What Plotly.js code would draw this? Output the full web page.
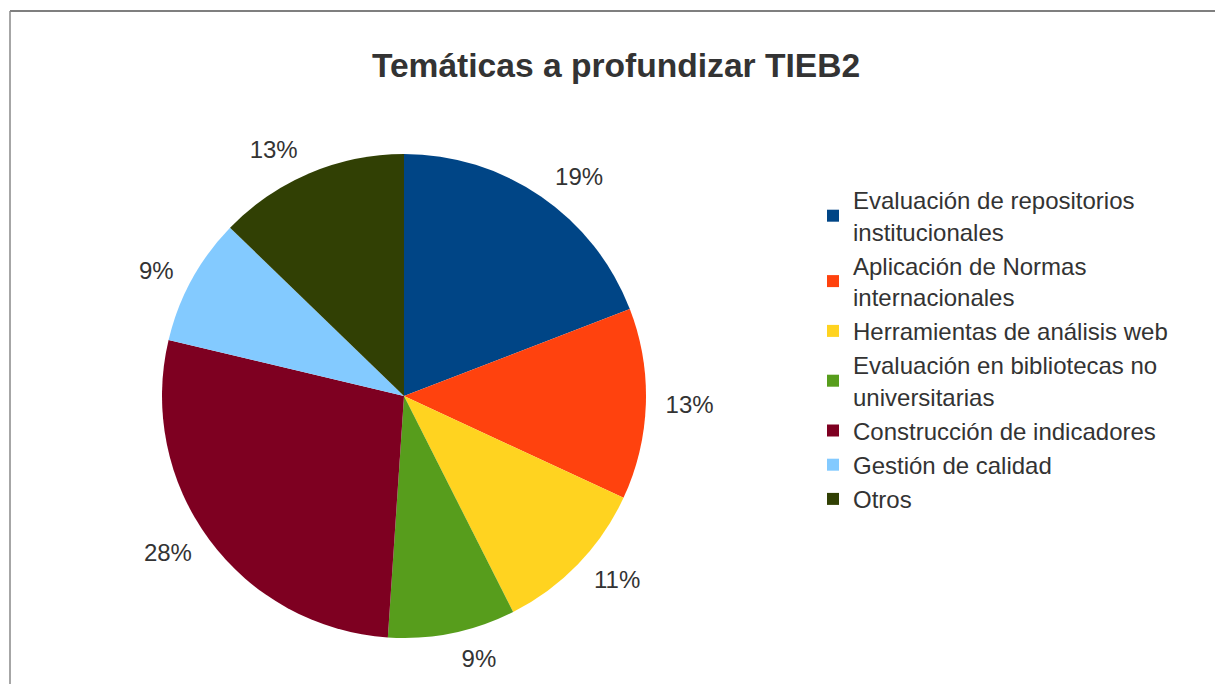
<!DOCTYPE html>
<html>
<head>
<meta charset="utf-8">
<script src="https://cdn.plot.ly/plotly-3.0.1.min.js"></script>
<style>html,body{margin:0;padding:0;background:#fff;}</style>
</head>
<body>
<div id="chart" style="width:1215px;height:684px;"></div>
<script>
const categories = [
  "Evaluación de repositorios<br>institucionales",
  "Aplicación de Normas<br>internacionales",
  "Herramientas de análisis web",
  "Evaluación en bibliotecas no<br>universitarias",
  "Construcción de indicadores",
  "Gestión de calidad",
  "Otros"
];
const values = [9, 6, 5, 4, 13, 4, 6];
const colors = ["#004586", "#ff420e", "#ffd320", "#579d1c", "#7e0021", "#83caff", "#314004"];
const titleText = "Temáticas a profundizar TIEB2";

const W = 1215, H = 684;
const cx = 404, cy = 396, r = 242, rText = 255;
const font = "Liberation Sans, Arial, sans-serif";

const data = [
  {
    type: "pie",
    labels: categories,
    values: values,
    sort: false,
    direction: "clockwise",
    rotation: 0,
    marker: {colors: colors, line: {width: 0}},
    textinfo: "none",
    hoverinfo: "none",
    domain: {x: [(cx - r) / W, (cx + r) / W], y: [1 - (cy + r) / H, 1 - (cy - r) / H]},
    automargin: false
  },
  {
    type: "pie",
    labels: categories,
    values: values,
    sort: false,
    direction: "clockwise",
    rotation: 0,
    showlegend: false,
    marker: {colors: colors.map(() => "rgba(0,0,0,0)"), line: {width: 0}},
    textposition: "outside",
    texttemplate: "%{percent:.0%}",
    textfont: {family: font, size: 24, color: "#333333"},
    hoverinfo: "none",
    domain: {x: [(cx - rText) / W, (cx + rText) / W], y: [1 - (cy + rText) / H, 1 - (cy - rText) / H]},
    automargin: false
  }
];
const layout = {
  width: W, height: H,
  margin: {l: 0, r: 0, t: 0, b: 0},
  paper_bgcolor: "#ffffff",
  title: {
    text: "<b>" + titleText + "</b>",
    x: 616 / W, xanchor: "center",
    y: 1 - 65 / H, yanchor: "middle",
    font: {family: font, size: 33.6, color: "#333333"}
  },
  legend: {
    x: 813 / W, xanchor: "left",
    y: 1 - 178 / H, yanchor: "top",
    font: {family: font, size: 24, color: "#333333"},
    tracegroupgap: 0,
    bgcolor: "rgba(0,0,0,0)"
  },
  showlegend: true,
  shapes: [
    {type: "line", xref: "paper", yref: "paper", x0: 10 / W, x1: 1, y0: 1 - 11 / H, y1: 1 - 11 / H, line: {color: "#555555", width: 1.5}},
    {type: "line", xref: "paper", yref: "paper", x0: 10 / W, x1: 10 / W, y0: 1 - 11 / H, y1: 0, line: {color: "#888888", width: 1.5}}
  ]
};
Plotly.newPlot("chart", data, layout, {displayModeBar: false, staticPlot: true});
</script>
</body>
</html>
